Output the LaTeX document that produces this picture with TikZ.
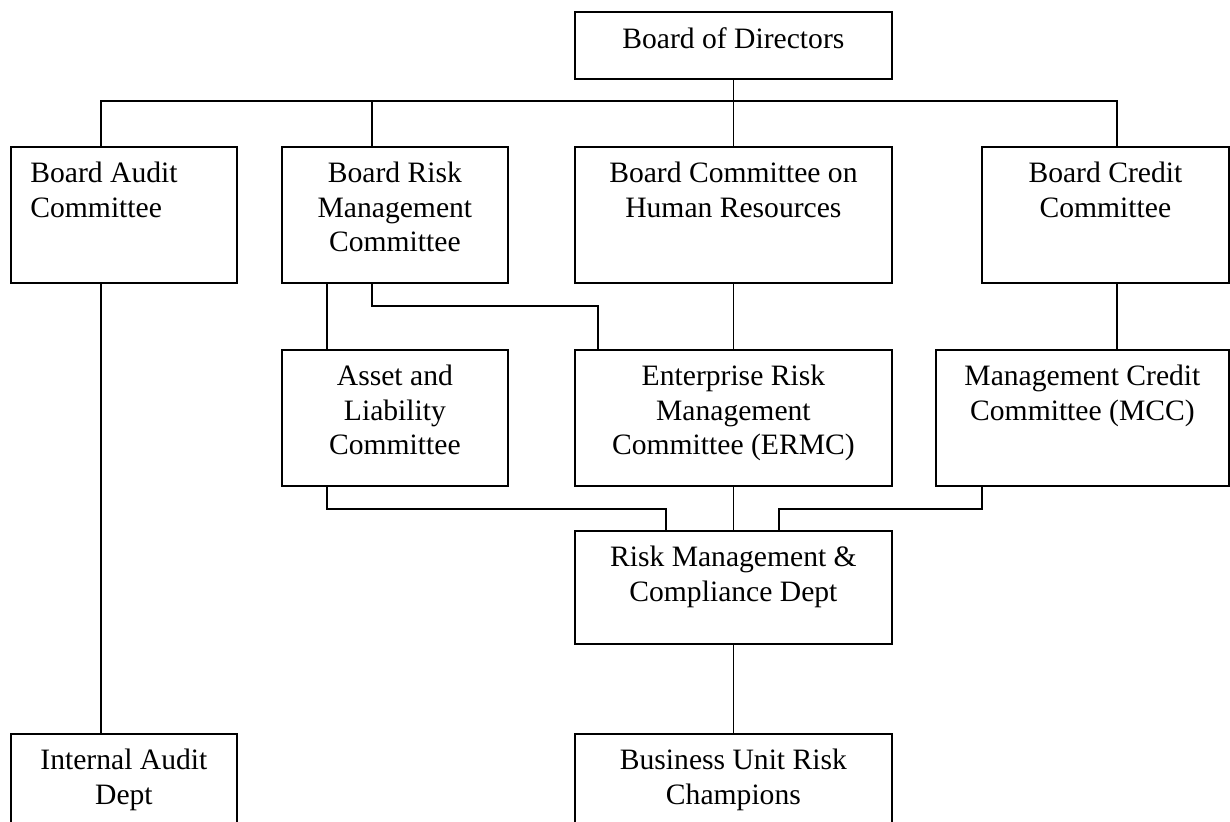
\documentclass[tikz,border=0pt]{standalone}
\usepackage{fontspec}
\setmainfont{Liberation Serif}
\usetikzlibrary{positioning}

\begin{document}
\begin{tikzpicture}[x=0.5pt, y=-0.5pt,
    unit/.style={rectangle, draw, line width=0.9pt, anchor=north west, inner sep=0pt, minimum height=68pt},
    wide/.style={unit, minimum width=158.5pt},
    narrow/.style={unit, minimum width=113pt},
    caption/.style={anchor=north, align=center, inner sep=0pt, yshift=-8pt, font=\fontsize{14.8}{17.25}\selectfont},
    link/.style={line width=0.9pt}
  ]
  \clip (0,0) rectangle (1230,821);

  % boxes
  \node[wide, minimum height=33.5pt, label={[caption]north:Board of Directors}] (bod) at (574,11) {};
  \node[narrow, label={[caption, anchor=north west, align=left, xshift=10pt]north west:Board Audit\\Committee}] (bac) at (10,146) {};
  \node[narrow, label={[caption]north:Board Risk\\Management\\Committee}] (brmc) at (281,146) {};
  \node[wide, label={[caption]north:Board Committee on\\Human Resources}] (bchr) at (574,146) {};
  \node[unit, minimum width=123.5pt, label={[caption]north:Board Credit\\Committee}] (bcc) at (981,146) {};
  \node[narrow, label={[caption]north:Asset and\\Liability\\Committee}] (alc) at (281,349) {};
  \node[wide, label={[caption]north:Enterprise Risk\\Management\\Committee (ERMC)}] (ermc) at (574,349) {};
  \node[unit, minimum width=146.5pt, label={[caption]north:Management Credit\\Committee (MCC)}] (mcc) at (935,349) {};
  \node[wide, minimum height=56.5pt, label={[caption]north:Risk Management \&\\Compliance Dept}] (rmc) at (574,530) {};
  \node[narrow, label={[caption]north:Internal Audit\\Dept}] (iad) at (10,733) {};
  \node[wide, label={[caption]north:Business Unit Risk\\Champions}] (burc) at (574,733) {};

  % links
  \coordinate (bus) at (0,101);
  \draw[link] (bod.south) -- (bchr.north);
  \draw[link] ([xshift=-11.5pt]bac.north) |- ([xshift=5.75pt]bcc.north |- bus) -- ([xshift=5.75pt]bcc.north);
  \draw[link] ([xshift=-11.5pt]brmc.north |- bus) -- ([xshift=-11.5pt]brmc.north);
  \draw[link] ([xshift=-11.5pt]bac.south) -- ([xshift=-11.5pt]iad.north);
  \draw[link] ([xshift=-34pt]brmc.south) -- ([xshift=-34pt]alc.north);
  \draw[link] ([xshift=-11.5pt]brmc.south) -- ++(0,22) -| ([xshift=-67.75pt]ermc.north);
  \draw[link] (bchr.south) -- (ermc.north);
  \draw[link] ([xshift=5.75pt]bcc.south) -- ([xshift=5.75pt]bcc.south |- mcc.north);
  \draw[link] ([xshift=-34pt]alc.south) -- ++(0,22) -| ([xshift=-33.75pt]rmc.north);
  \draw[link] (ermc.south) -- (rmc.north);
  \draw[link] ([xshift=-50.25pt]mcc.south) -- ++(0,22) -| ([xshift=22.75pt]rmc.north);
  \draw[link] (rmc.south) -- (burc.north);
\end{tikzpicture}
\end{document}
